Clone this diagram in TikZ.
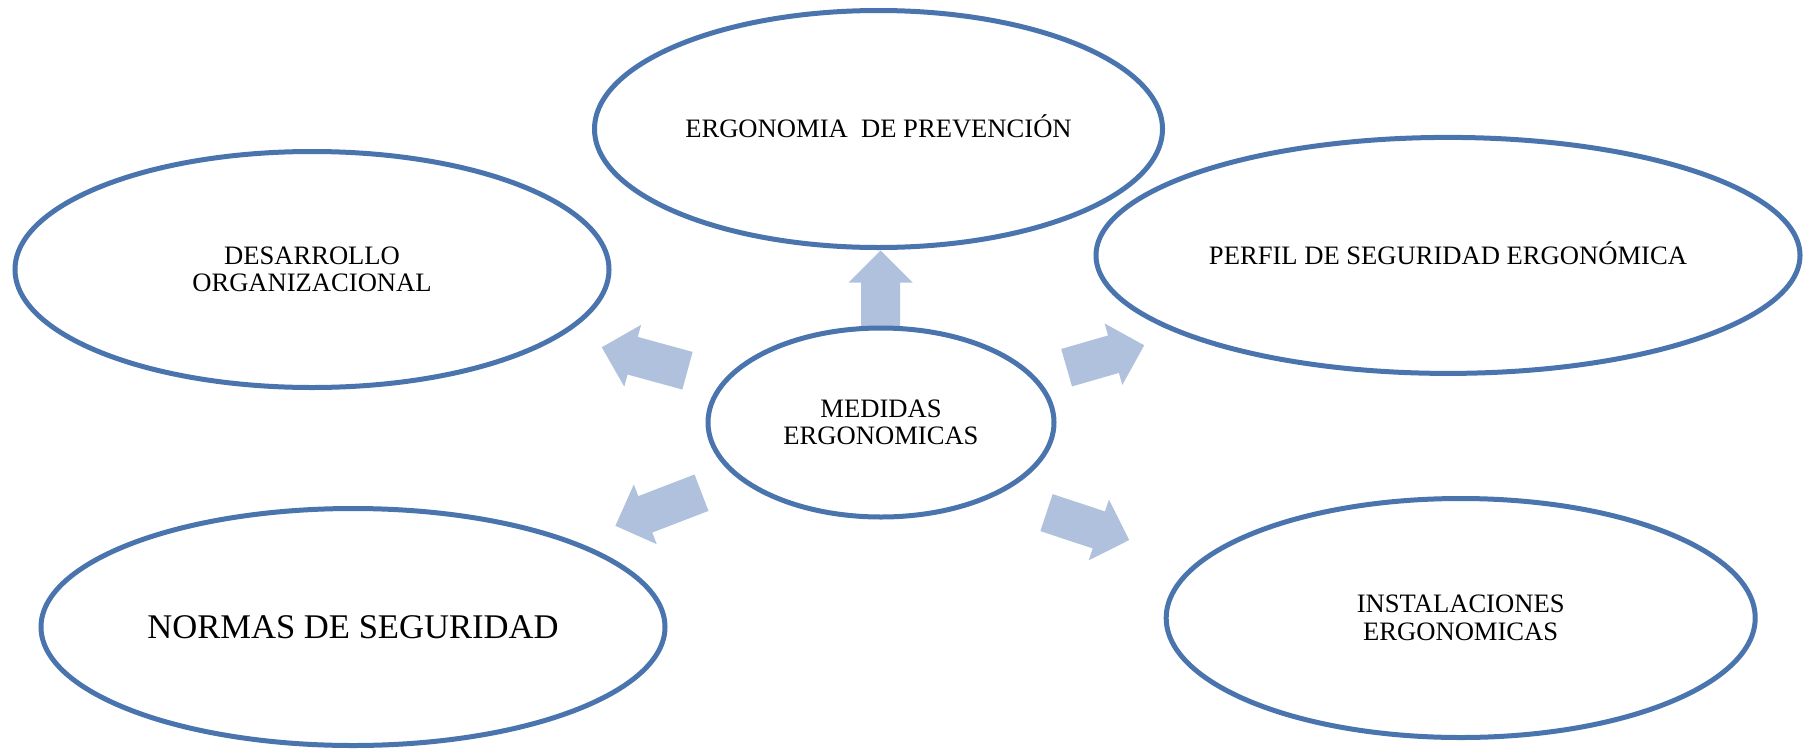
\documentclass[tikz,border=0pt]{standalone}
\usepackage{fontspec}
\setmainfont{Liberation Serif}
\usetikzlibrary{shapes.geometric,calc}

\definecolor{ringblue}{HTML}{4A74AD}
\definecolor{spokefill}{HTML}{B0C1DD}

\tikzset{
  topic/.style={ellipse, draw=ringblue, line width=5pt, fill=white,
    inner sep=0pt, align=center,
    font=\fontsize{26.6}{27.5}\selectfont},
  accented/.style={text height=17.6pt, text depth=0pt},
  spoke/.style={fill=spokefill, draw=none},
}

% Block arrow from base point #2 to tip point #3 (shaft 39pt, head 64pt wide, 32pt long)
\newcommand{\spokearrow}[3]{%
  \coordinate (#1n) at ($(#3)!32pt!(#2)$);
  \fill[spoke] ($(#2)!19.5pt!90:(#3)$) -- ($(#1n)!19.5pt!90:(#3)$)
    -- ($(#1n)!32pt!90:(#3)$) -- (#3) -- ($(#1n)!32pt!-90:(#3)$)
    -- ($(#1n)!19.5pt!-90:(#3)$) -- ($(#2)!19.5pt!-90:(#3)$) -- cycle;
}

\begin{document}
\begin{tikzpicture}[x=1pt,y=-1pt]
\useasboundingbox (0,0) rectangle (1804,750);

% arrow end points
\coordinate (upB) at (880.5,327.5);   \coordinate (upT) at (880.5,250.5);
\coordinate (ulB) at (687.5,370.7);   \coordinate (ulT) at (601.8,347.3);
\coordinate (urB) at (1066.6,367.7);  \coordinate (urT) at (1144.2,345.3);
\coordinate (llB) at (701.5,492.7);   \coordinate (llT) at (615.4,525.8);
\coordinate (lrB) at (1046.5,512.6);  \coordinate (lrT) at (1129.2,540);

\spokearrow{up}{upB}{upT}
\spokearrow{ul}{ulB}{ulT}
\spokearrow{ur}{urB}{urT}
\spokearrow{ll}{llB}{llT}
\spokearrow{lr}{lrB}{lrT}

% topics
\node[topic, accented, minimum width=568pt, minimum height=237pt]
  (prev) at (878.5,129) {ERGONOMIA\ \ DE PREVENCIÓN};
\node[topic, minimum width=594pt, minimum height=236pt]
  (desa) at (312,269.5) {DESARROLLO\\ORGANIZACIONAL};
\node[topic, accented, minimum width=704pt, minimum height=236pt]
  (perf) at (1448,255.4) {PERFIL DE SEGURIDAD ERGONÓMICA};
\node[topic, minimum width=346pt, minimum height=189pt]
  (medi) at (881,422.5) {MEDIDAS\\ERGONOMICAS};
\node[topic, minimum width=624pt, minimum height=237pt,
  font=\fontsize{34.6}{36}\selectfont]
  (norm) at (353,627) {NORMAS DE SEGURIDAD};
\node[topic, minimum width=589pt, minimum height=239pt]
  (inst) at (1460.7,618) {INSTALACIONES\\ERGONOMICAS};
\end{tikzpicture}
\end{document}
